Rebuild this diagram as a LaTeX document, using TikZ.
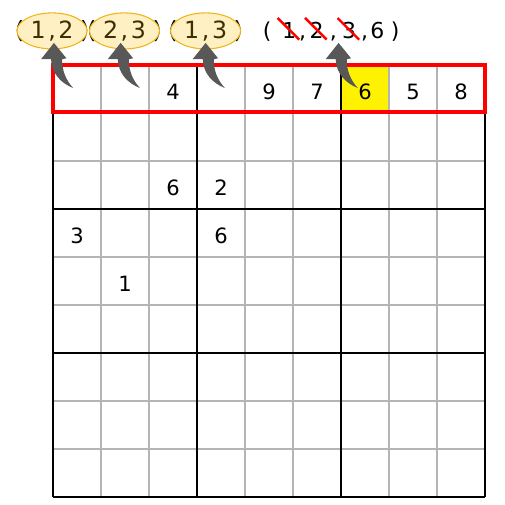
\documentclass[tikz,border=0pt]{standalone}
\usepackage{fontspec}
\setmainfont{DejaVu Sans}
\usetikzlibrary{shapes.geometric, calc}
\definecolor{ArrowGray}{RGB}{88,88,88}
\definecolor{CandFill}{RGB}{255,240,196}
\definecolor{CandLine}{RGB}{240,180,20}
\definecolor{CandText}{RGB}{60,48,0}
\definecolor{ThinGrid}{RGB}{180,180,180}
\tikzset{
  cellnum/.style={font=\fontsize{12}{14}\selectfont, inner sep=0pt},
  candidate/.style={ellipse, draw=CandLine, fill=CandFill, line width=0.6pt, minimum width=1.40cm, minimum height=0.72cm, inner sep=0pt, text=CandText, font=\fontsize{13.5}{15}\selectfont},
  paren/.style={font=\fontsize{13.5}{15}\selectfont, inner sep=0pt, anchor=base},
  topnum/.style={font=\fontsize{12.5}{15}\selectfont, inner sep=0pt, anchor=base},
  strike/.style={red, line width=1.4pt},
  swoosh/.pic={
    \fill[ArrowGray] (0,0) .. controls (-0.15,0.17) and (-0.23,0.35) .. (-0.23,0.6)
      -- (-0.14,0.62) -- (-0.40,0.94) -- (-0.67,0.60) -- (-0.46,0.60)
      .. controls (-0.45,0.3) and (-0.25,0.1) .. (0,0) -- cycle;
  }
}
\newcommand{\pairtext}[2]{#1\kern1.5pt,\kern1.5pt#2}
\begin{document}
\begin{tikzpicture}[x=0.96cm, y=0.96cm]
  \useasboundingbox (-1.104,-0.167) rectangle (9.417,10.354);

  \fill[yellow] (6,8.03) rectangle (7,9);
  \foreach \i in {0,...,9} {
    \draw[ThinGrid, line width=0.6pt] (\i,0) -- (\i,9);
    \draw[ThinGrid, line width=0.6pt] (0,\i) -- (9,\i);
  }
  \foreach \i in {0,3,6,9} {
    \draw[line width=1.2pt] (\i,0) -- (\i,9);
    \draw[line width=1.2pt] (0,\i) -- (9,\i);
  }
  \draw[red, line width=2.3pt] (0,8.03) rectangle (9,9);

  \foreach \c/\r/\d in {3/1/4, 5/1/9, 6/1/7, 7/1/6, 8/1/5, 9/1/8, 3/3/6, 4/3/2, 1/4/3, 4/4/6, 2/5/1}
    \node[cellnum] (n\c-\r) at (\c-0.5, 9.44-\r) {\d};

  \foreach \x/\n in {-0.02/1, 1.49/2, 3.18/3} {
    \node[paren] (lp\n) at (\x-0.68, 9.55) {(};
    \node[paren] (rp\n) at (\x+0.68, 9.55) {)};
  }
  \node[candidate] (p12) at (-0.02,9.71) {\pairtext{1}{2}};
  \node[candidate] (p23) at (1.49,9.71) {\pairtext{2}{3}};
  \node[candidate] (p13) at (3.18,9.71) {\pairtext{1}{3}};

  \node[topnum] (q0) at (4.46,9.56) {(};
  \foreach \d/\x in {1/4.92, 2/5.49, 3/6.17, 6/6.76}
    \node[topnum] (q\d) at (\x,9.56) {\d};
  \foreach \x/\n in {5.20/1, 5.84/2, 6.49/3}
    \node[topnum] (cm\n) at (\x,9.56) {,};
  \node[topnum] (q9) at (7.13,9.56) {)};
  \foreach \d in {1,2,3}
    \draw[strike] ($(q\d.center)+(-0.24,0.25)$) -- ($(q\d.center)+(0.21,-0.2)$);

  \coordinate (t1) at (0.42,8.52);
  \coordinate (t2) at (1.81,8.52);
  \coordinate (t3) at (3.58,8.52);
  \coordinate (t4) at (6.35,8.52);
  \foreach \t in {t1,t2,t3,t4}
    \pic at (\t) {swoosh};
\end{tikzpicture}
\end{document}
